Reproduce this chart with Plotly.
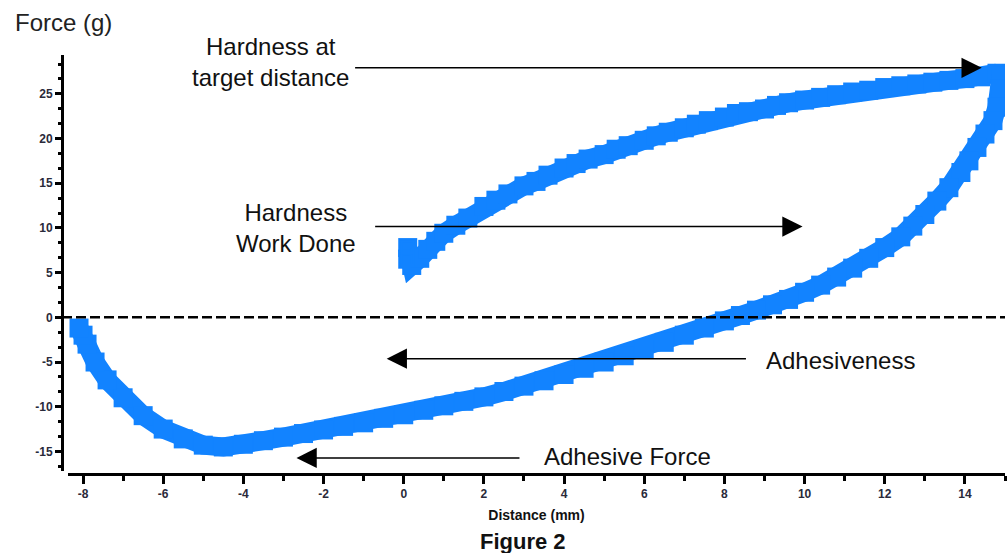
import plotly.graph_objects as go

# Compression (upward) stroke
up_x = [0.1, 0.1, 0.2, 0.4, 0.6, 0.8, 1.0, 1.3, 1.6, 2.0, 2.3, 2.6, 3.0, 3.3, 3.6, 4.0, 4.3, 4.6,
        5.0, 5.3, 5.6, 6.0, 6.3, 6.6, 7.0, 7.3, 7.6, 8.0, 8.3, 8.6, 9.0, 9.3, 9.6, 10.0, 10.4,
        10.8, 11.2, 11.6, 12.0, 12.4, 12.8, 13.2, 13.6, 14.0, 14.4, 14.8]
up_y = [7.8, 6.5, 5.8, 6.6, 7.6, 8.5, 9.4, 10.3, 11.1, 12.4, 13.1, 13.8, 14.7, 15.2, 15.9, 16.7,
        17.2, 17.7, 18.2, 18.8, 19.2, 19.8, 20.3, 20.7, 21.2, 21.6, 22.0, 22.4, 22.8, 23.0, 23.3,
        23.7, 24.0, 24.3, 24.6, 24.9, 25.2, 25.4, 25.7, 25.9, 26.1, 26.3, 26.5, 26.7, 26.9, 27.3]

# Withdrawal (return) stroke
down_x = [14.9, 14.9, 14.8, 14.7, 14.5, 14.3, 14.1, 13.9, 13.6, 13.3, 13.0, 12.7, 12.4, 12.0,
          11.6, 11.2, 10.8, 10.4, 10.0, 9.6, 9.2, 8.8, 8.4, 8.0, 7.5, 7.0, 6.5, 6.0, 5.5, 5.0,
          4.5, 4.0, 3.5, 3.0, 2.5, 2.0, 1.5, 1.0, 0.5, 0.0, -0.5, -1.0, -1.5, -2.0, -2.5, -3.0,
          -3.5, -4.0, -4.5, -5.0, -5.5, -6.0, -6.5, -7.0, -7.4, -7.7, -7.9, -8.0, -8.1]
down_y = [27.0, 25.5, 23.5, 22.0, 20.5, 19.0, 17.5, 16.2, 14.5, 13.0, 11.5, 10.2, 9.0, 7.8,
          6.6, 5.5, 4.5, 3.6, 2.8, 2.0, 1.4, 0.8, 0.2, -0.4, -1.2, -2.0, -2.8, -3.6, -4.3, -5.0,
          -5.7, -6.4, -7.1, -7.7, -8.3, -8.9, -9.4, -9.9, -10.4, -10.9, -11.3, -11.8, -12.2,
          -12.6, -13.0, -13.4, -13.8, -14.2, -14.5, -14.3, -13.6, -12.5, -11.0, -9.0, -7.0,
          -5.0, -3.0, -2.0, -1.2]

x_ticks = [-8, -6, -4, -2, 0, 2, 4, 6, 8, 10, 12, 14]
x_tick_labels = ["-8", "-6", "-4", "-2", "0", "2", "4", "6", "8", "10", "12", "14"]
y_ticks = [-15, -10, -5, 0, 5, 10, 15, 20, 25]
y_tick_labels = ["-15", "-10", "-5", "0", "5", "10", "15", "20", "25"]

BLUE = "#1283FF"
FONT = "Liberation Sans, Arial, sans-serif"

fig = go.Figure()
for xs, ys in [(up_x, up_y), (down_x, down_y)]:
    fig.add_trace(go.Scatter(x=xs, y=ys, mode="lines", line=dict(color=BLUE, width=19),
                             hoverinfo="skip", showlegend=False))
    fig.add_trace(go.Scatter(x=xs, y=ys, mode="markers",
                             marker=dict(symbol="square", size=19, color=BLUE,
                                         line=dict(color=BLUE, width=0)),
                             showlegend=False))
# start cluster of hollow squares (first points of compression)
fig.add_trace(go.Scatter(x=up_x[:2], y=up_y[:2], mode="markers",
                         marker=dict(symbol="square-open", size=12, color=BLUE,
                                     line=dict(color=BLUE, width=2.5)),
                         showlegend=False))

# zero reference line
fig.add_shape(type="line", xref="paper", yref="y", x0=0, x1=1, y0=0, y1=0,
              line=dict(color="black", width=2.5, dash="10px,4px"))

arrows = [
    (14.42, 27.9, -1.25, 27.9),
    (9.95, 10.15, -0.75, 10.15),
    (-0.425, -4.63, 8.575, -4.63),
    (-2.675, -15.73, 2.925, -15.73),
]
for x, y, ax, ay in arrows:
    fig.add_annotation(x=x, y=y, ax=ax, ay=ay, xref="x", yref="y", axref="x", ayref="y",
                       text="", showarrow=True, arrowhead=2, arrowsize=2.7, arrowwidth=1.5,
                       arrowcolor="black")

labels = [
    (270, 62, "Hardness at<br>target distance"),
    (296, 228, "Hardness<br>Work Done"),
    (840, 360, "Adhesiveness"),
    (627, 456, "Adhesive Force"),
]
W, H = 1008, 553
L, R, T, B = 62, 3, 55, 79
pw, ph = W - L - R, H - T - B
for px, py, txt in labels:
    fig.add_annotation(x=(px - L) / pw, y=1 - (py - T) / ph, xref="paper", yref="paper",
                       text=txt, showarrow=False, xanchor="center", yanchor="middle",
                       font=dict(family=FONT, size=24, color="#111"))

fig.add_annotation(x=(63 - L) / pw, y=1 - (22 - T) / ph, xref="paper", yref="paper",
                   text="Force (g)", showarrow=False, xanchor="center", yanchor="middle",
                   font=dict(family=FONT, size=24, color="#222"))
fig.add_annotation(x=(523 - L) / pw, y=1 - (541 - T) / ph, xref="paper", yref="paper",
                   text="<b>Figure 2</b>", showarrow=False, xanchor="center", yanchor="middle",
                   font=dict(family=FONT, size=22, color="#111"))

fig.update_layout(
    width=W, height=H, margin=dict(l=L, r=R, t=T, b=B),
    paper_bgcolor="white", plot_bgcolor="white",
    xaxis=dict(range=[-8.375, 15.0], domain=[6 / pw, 1], anchor="free", position=0,
               tickvals=x_ticks, ticktext=x_tick_labels,
               ticks="outside", ticklen=8, tickwidth=3, tickcolor="black",
               showline=True, linecolor="black", linewidth=3, showgrid=False, zeroline=False,
               tickfont=dict(family=FONT, size=12, color="#2a2a3a", weight="bold"),
               minor=dict(dtick=1, tick0=0, ticks="outside", ticklen=5, tickwidth=3,
                          tickcolor="black", showgrid=False),
               title=dict(text="<b>Distance (mm)</b>", standoff=9,
                          font=dict(family=FONT, size=14, color="#111"))),
    yaxis=dict(range=[-17.19, 29.34], domain=[3 / ph, 1], anchor="free", position=0,
               tickvals=y_ticks, ticktext=y_tick_labels,
               ticks="outside", ticklen=6, tickwidth=3, tickcolor="black",
               showline=True, linecolor="black", linewidth=3, showgrid=False, zeroline=False,
               tickfont=dict(family=FONT, size=12, color="#2a2a3a", weight="bold"),
               minor=dict(dtick=5 / 3, tick0=0, ticks="outside", ticklen=3, tickwidth=3,
                          tickcolor="black", showgrid=False)),
)

fig.write_html("out.html", config={"displayModeBar": False},
               post_script="document.body.style.margin='0';document.body.style.overflow='hidden';")
